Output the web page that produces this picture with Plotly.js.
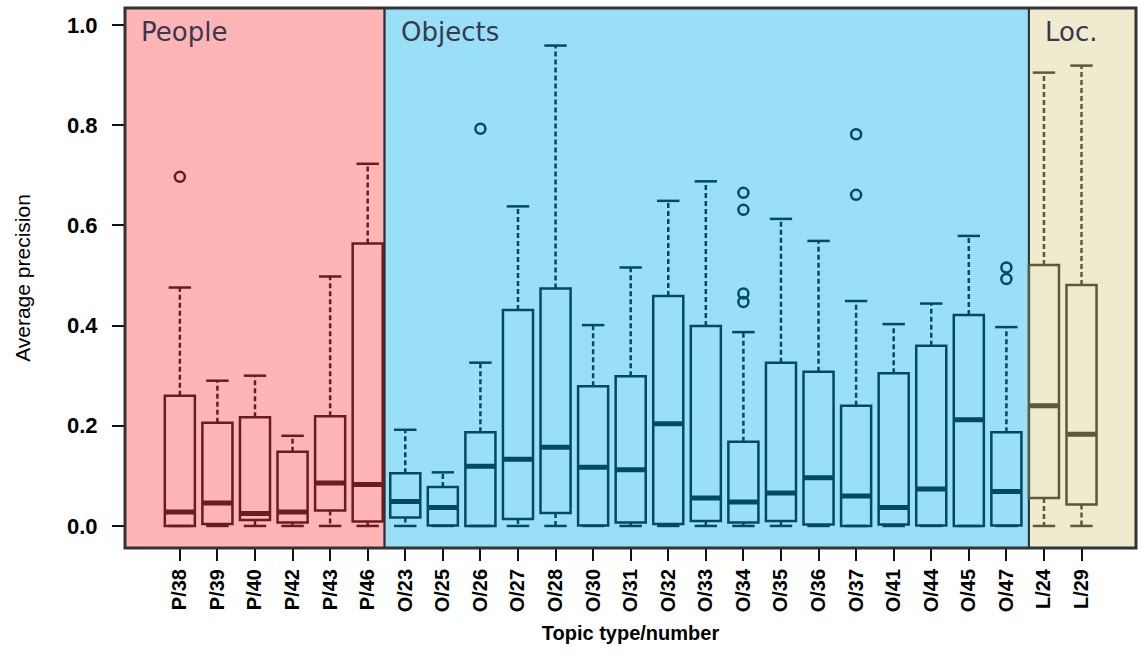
<!DOCTYPE html>
<html>
<head>
<meta charset="utf-8">
<script src="https://cdn.plot.ly/plotly-3.0.1.min.js"></script>
<style>html,body{margin:0;padding:0;background:#fff;}#chart{width:1138px;height:656px;}</style>
</head>
<body>
<div id="chart"></div>
<script>
// ---- data ----
const categories = ["P/38","P/39","P/40","P/42","P/43","P/46",
  "O/23","O/25","O/26","O/27","O/28","O/30","O/31","O/32","O/33","O/34","O/35","O/36","O/37","O/41","O/44","O/45","O/47",
  "L/24","L/29"];
const q1 =      [0.000,0.004,0.012,0.007,0.031,0.009,
  0.017,0.001,0.000,0.014,0.026,0.001,0.007,0.004,0.010,0.007,0.010,0.003,0.000,0.003,0.001,0.000,0.001,
  0.056,0.043];
const medians = [0.028,0.046,0.025,0.028,0.086,0.083,
  0.049,0.037,0.119,0.133,0.157,0.117,0.112,0.204,0.056,0.048,0.066,0.096,0.060,0.037,0.074,0.212,0.069,
  0.240,0.183];
const q3 =      [0.260,0.206,0.217,0.148,0.219,0.564,
  0.105,0.078,0.187,0.431,0.474,0.279,0.299,0.459,0.399,0.168,0.326,0.308,0.240,0.305,0.360,0.421,0.187,
  0.521,0.481];
const lowerWhisker = [0,0,0,0,0,0, 0,0,0,0,0,0,0,0,0,0,0,0,0,0,0,0,0, 0,0];
const upperWhisker = [0.476,0.290,0.300,0.180,0.498,0.723,
  0.192,0.107,0.326,0.638,0.959,0.401,0.516,0.649,0.688,0.387,0.613,0.569,0.449,0.403,0.444,0.579,0.397,
  0.905,0.919];
const outlierCats = ["P/38","O/26","O/34","O/34","O/34","O/34","O/37","O/37","O/47","O/47"];
const outlierVals = [0.697,0.793,0.665,0.631,0.464,0.447,0.782,0.661,0.516,0.493];
const groupPrefixes = ["P","O","L"];
const groupNames = ["People","Objects","Loc."];
const groupLineColors = ["#6B1B1F","#004A66","#5C5A3A"];
const groupFillColors = ["#FFB4B6","#99DFF7","#EEEBCF"];

// ---- build traces ----
const traces = [];
const shapes = [];
const annotations = [];
const boundaries = [-1.46, 5.45, 22.6, 25.45];

groupPrefixes.forEach((p, g) => {
  const idx = categories.map((c, i) => i).filter(i => categories[i].startsWith(p + "/"));
  const pick = arr => idx.map(i => arr[i]);
  const cats = pick(categories);
  const col = groupLineColors[g];

  traces.push({
    type: "box", x: cats, q1: pick(q1), median: pick(medians), q3: pick(q3),
    lowerfence: pick(q1), upperfence: pick(q3),
    width: 0.8, whiskerwidth: 0, boxpoints: false,
    line: {color: col, width: 2.5}, fillcolor: "rgba(0,0,0,0)",
    hoverinfo: "skip", showlegend: false
  });
  traces.push({
    type: "box", x: cats, q1: pick(medians), median: pick(medians), q3: pick(medians),
    lowerfence: pick(medians), upperfence: pick(medians),
    width: 0.8, whiskerwidth: 0, boxpoints: false,
    line: {color: col, width: 5}, fillcolor: "rgba(0,0,0,0)",
    hoverinfo: "skip", showlegend: false
  });
  const wx = [], wy = [];
  idx.forEach(i => {
    wx.push(categories[i], categories[i], null, categories[i], categories[i], null);
    wy.push(q3[i], upperWhisker[i], null, q1[i], lowerWhisker[i], null);
  });
  traces.push({
    type: "scatter", mode: "lines", x: wx, y: wy, connectgaps: false,
    line: {color: col, width: 2.5, dash: "5px,3px"}, hoverinfo: "skip", showlegend: false
  });
  traces.push({
    type: "scatter", mode: "markers",
    x: cats.concat(cats), y: pick(upperWhisker).concat(pick(lowerWhisker)),
    marker: {symbol: "line-ew", size: 16, line: {color: col, width: 2.5}},
    hoverinfo: "skip", showlegend: false
  });
  const oi = outlierCats.map((c, k) => k).filter(k => outlierCats[k].startsWith(p + "/"));
  if (oi.length) {
    traces.push({
      type: "scatter", mode: "markers",
      x: oi.map(k => outlierCats[k]), y: oi.map(k => outlierVals[k]),
      marker: {symbol: "circle-open", size: 10, color: col, line: {color: col, width: 2.5}},
      hoverinfo: "skip", showlegend: false
    });
  }
  shapes.push({
    type: "rect", xref: "x", yref: "paper", x0: boundaries[g], x1: boundaries[g + 1], y0: 0, y1: 1,
    fillcolor: groupFillColors[g], line: {color: "#2E2E2E", width: 2}, layer: "below"
  });
  annotations.push({
    xref: "x", yref: "y", x: boundaries[g] + 0.38, y: 0.986, xanchor: "left", yanchor: "middle",
    text: groupNames[g], showarrow: false,
    font: {family: "DejaVu Sans, Verdana, sans-serif", size: 26, color: "#38384F"}
  });
});

shapes.push({type: "rect", xref: "paper", yref: "paper", x0: 0, x1: 1, y0: 0, y1: 1,
  line: {color: "#333333", width: 3}, fillcolor: "rgba(0,0,0,0)", layer: "above"});

const layout = {
  width: 1138, height: 656,
  margin: {l: 125, r: 2, t: 8, b: 108},
  paper_bgcolor: "#ffffff", plot_bgcolor: "#ffffff",
  boxmode: "overlay",
  showlegend: false,
  xaxis: {
    type: "category", categoryorder: "array", categoryarray: categories,
    range: [boundaries[0], boundaries[3]],
    showgrid: false, zeroline: false, showline: false,
    ticks: "outside", ticklen: 12, tickwidth: 2, tickcolor: "#111",
    tickangle: -90,
    tickfont: {family: "Liberation Sans, Arial, sans-serif", size: 20, color: "#000", weight: "bold"},
    title: {text: "<b>Topic type/number</b>", standoff: 14,
      font: {family: "Liberation Sans, Arial, sans-serif", size: 20, color: "#000"}}
  },
  yaxis: {
    range: [-0.044, 1.034],
    tickvals: [0, 0.2, 0.4, 0.6, 0.8, 1.0],
    ticktext: ["0.0", "0.2", "0.4", "0.6", "0.8", "1.0"],
    showgrid: false, zeroline: false, showline: false,
    ticks: "outside", ticklen: 12, tickwidth: 2, tickcolor: "#111",
    ticklabelstandoff: 10,
    tickfont: {family: "Liberation Sans, Arial, sans-serif", size: 22, color: "#000", weight: "bold"},
    title: {text: "Average precision", standoff: 30,
      font: {family: "Liberation Sans, Arial, sans-serif", size: 21, color: "#000"}}
  },
  shapes: shapes,
  annotations: annotations
};

Plotly.newPlot("chart", traces, layout, {displayModeBar: false, staticPlot: true});
</script>
</body>
</html>
